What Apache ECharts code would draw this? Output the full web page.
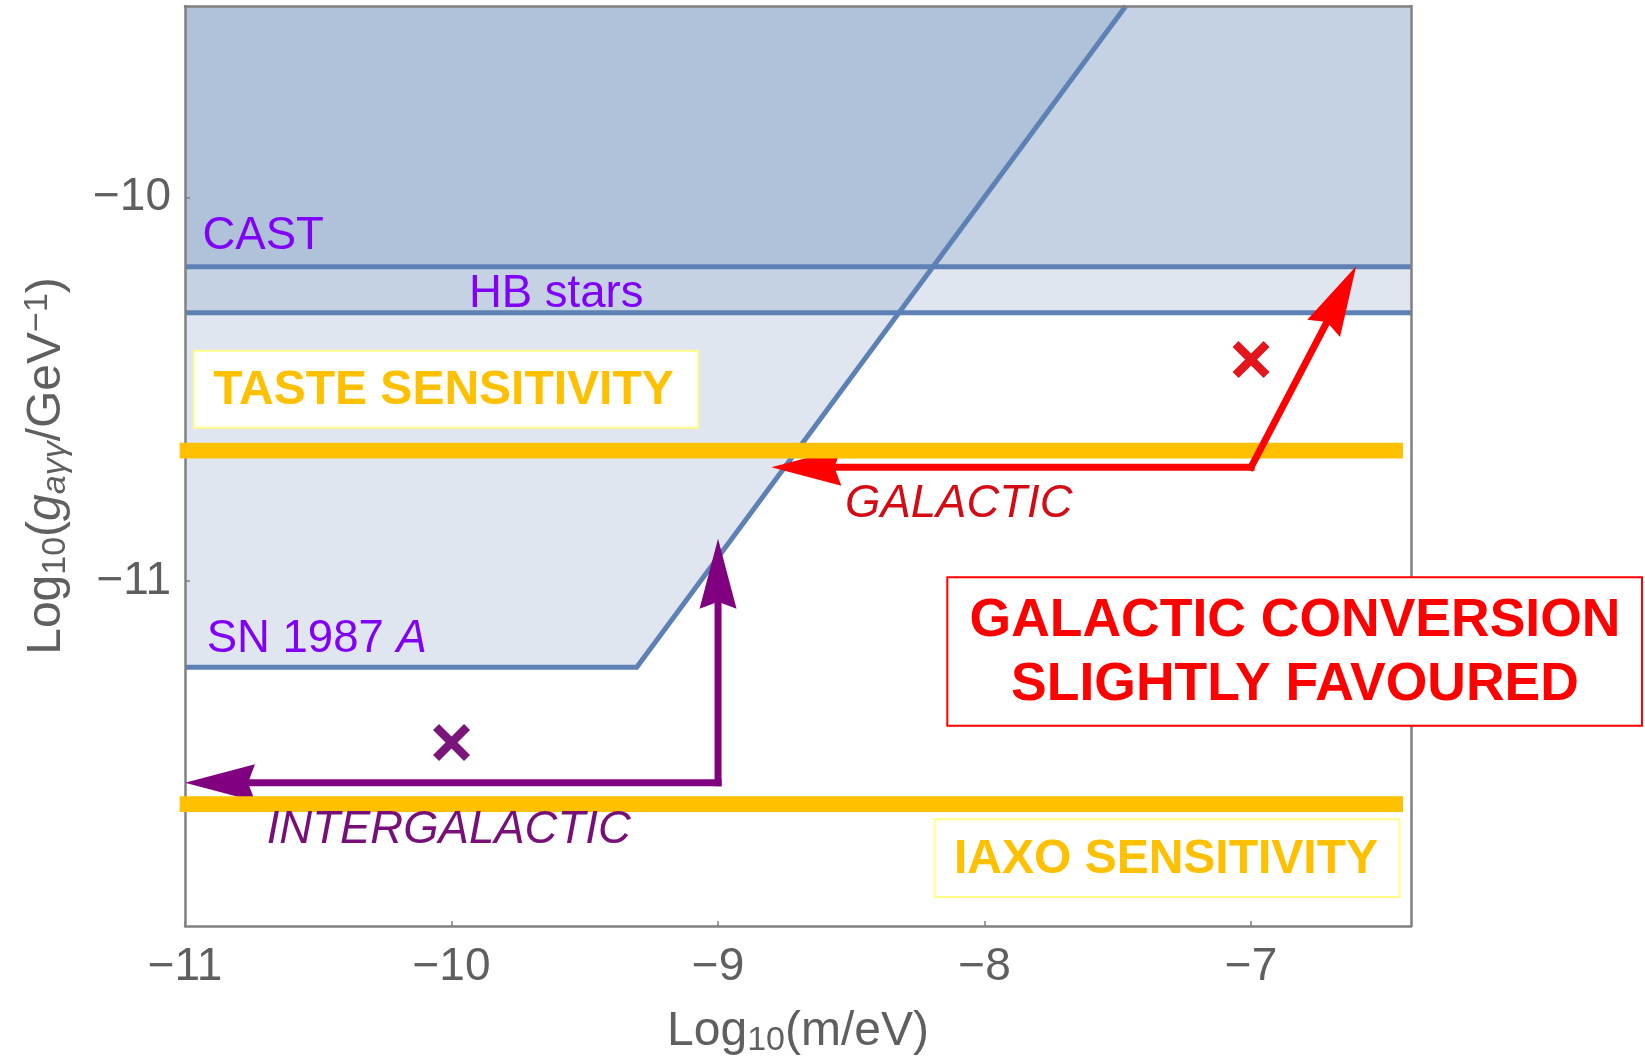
<!DOCTYPE html>
<html>
<head>
<meta charset="utf-8">
<script src="https://cdn.jsdelivr.net/npm/echarts@6/dist/echarts.min.js"></script>
<style>
html,body{margin:0;padding:0;background:#ffffff;}
#chart{width:1645px;height:1058px;}
</style>
</head>
<body>
<div id="chart"></div>
<script>
// ---------------- data (log10 values) ----------------
const xTickValues = [-11, -10, -9, -8, -7];
const yTickValues = [-11, -10];
const xRange = [-11, -6.4];
const yRange = [-11.9, -9.5];

// exclusion limits: log10(m/eV), log10(g/GeV^-1)
const castLimit = [[-11, -10.18], [-6.4, -10.18]];
const hbLimit = [[-11, -10.30], [-6.4, -10.30]];
const snLimit = [[-11, -11.225], [-9.305, -11.225], [-7.47, -9.5]];

// sensitivity levels
const tasteLine = [[-11.02, -10.66], [-6.43, -10.66]];
const iaxoLine = [[-11.02, -11.582], [-6.43, -11.582]];

// arrows: [from, to]
const galacticArrowLeft = [[-7.0, -10.703], [-8.8, -10.703]];
const galacticArrowUp = [[-7.0, -10.703], [-6.606, -10.179]];
const interArrowLeft = [[-9.0, -11.526], [-11.0, -11.526]];
const interArrowUp = [[-9.0, -11.526], [-9.0, -10.89]];

// best-fit markers
const galacticPoint = [[-7.0, -10.422]];
const interPoint = [[-10.0, -11.421]];

// ---------------- styling ----------------
const FONT = '"Liberation Sans", Arial, Helvetica, sans-serif';
const BLUE = '#5e81b5';
const YELLOW = '#ffc000';
const RED = '#ff0000';
const PURPLE = '#800080';
const LABEL_VIOLET = '#8000f8';
const AXIS_GRAY = '#5f5f5f';

const chart = echarts.init(document.getElementById('chart'), null, {renderer: 'canvas'});

function areaSeries(data) {
  return {
    type: 'line', data: data, showSymbol: false, symbol: 'none', silent: true, z: 2,
    lineStyle: {width: 0, opacity: 0},
    areaStyle: {color: BLUE, opacity: 0.2, origin: 'end'}
  };
}
function boundSeries(data) {
  return {
    type: 'line', data: data, showSymbol: false, symbol: 'none', silent: true, z: 3,
    lineStyle: {color: BLUE, width: 5, cap: 'butt', join: 'miter'}
  };
}
function levelSeries(data, z) {
  return {
    type: 'line', data: data, showSymbol: false, symbol: 'none', silent: true, z: z, clip: false,
    lineStyle: {color: YELLOW, width: 15.6, cap: 'butt'}
  };
}
function arrowSeries(arrow, color, z) {
  return {
    type: 'custom', coordinateSystem: 'cartesian2d', silent: true, z: z, clip: false,
    data: [[arrow[1][0], arrow[1][1], arrow[0][0], arrow[0][1]]],
    encode: {x: [0, 2], y: [1, 3]},
    renderItem: function (params, api) {
      const tip = api.coord([api.value(0), api.value(1)]);
      const tail = api.coord([api.value(2), api.value(3)]);
      const dx = tip[0] - tail[0], dy = tip[1] - tail[1];
      const len = Math.hypot(dx, dy);
      const ux = dx / len, uy = dy / len;
      const nx = -uy, ny = ux;
      const L = 70, W = 18.5, N = 63;
      const back = [tip[0] - ux * L, tip[1] - uy * L];
      const nb = [tip[0] - ux * N, tip[1] - uy * N];
      return {
        type: 'group',
        children: [
          {type: 'line', shape: {x1: tail[0] - ux * 3.5, y1: tail[1] - uy * 3.5, x2: nb[0] + ux * 2, y2: nb[1] + uy * 2},
           style: {stroke: color, lineWidth: 7, lineCap: 'butt'}},
          {type: 'polygon', shape: {points: [tip, [back[0] + nx * W, back[1] + ny * W], nb, [back[0] - nx * W, back[1] - ny * W]]},
           style: {fill: color}}
        ]
      };
    }
  };
}
function crossSeries(data, color) {
  return {
    type: 'scatter', data: data, silent: true, z: 6,
    symbol: 'path://M0,0L10,10M10,0L0,10', symbolSize: 31,
    itemStyle: {color: 'transparent', borderColor: color, borderWidth: 8.5, opacity: 1}
  };
}

const minusFmt = function (v) { return (v < 0 ? '\u2212' : '') + Math.abs(v); };

const nameRich = {
  m: {fontFamily: FONT, fontSize: 48, lineHeight: 52, color: AXIS_GRAY},
  mi: {fontFamily: FONT, fontSize: 48, lineHeight: 52, fontStyle: 'italic', color: AXIS_GRAY},
  s: {fontFamily: FONT, fontSize: 34, lineHeight: 18, verticalAlign: 'bottom', color: AXIS_GRAY},
  si: {fontFamily: FONT, fontSize: 34, lineHeight: 18, verticalAlign: 'bottom', fontStyle: 'italic', color: AXIS_GRAY},
  p: {fontFamily: FONT, fontSize: 34, lineHeight: 18, verticalAlign: 'top', color: AXIS_GRAY}
};

const frameLine = {show: true, lineStyle: {color: '#808080', width: 2.5}};

const option = {
  animation: false,
  backgroundColor: '#ffffff',
  grid: {left: 185, right: 234, top: 6, bottom: 132, containLabel: false, outerBoundsMode: 'none'},
  xAxis: [
    {
      type: 'value', min: xRange[0], max: xRange[1], z: 5,
      axisLine: frameLine,
      axisTick: {show: true, inside: true, length: 5, lineStyle: {color: '#808080', width: 1.5}, customValues: xTickValues},
      axisLabel: {customValues: xTickValues, formatter: minusFmt, fontFamily: FONT, fontSize: 46, color: AXIS_GRAY, margin: 18},
      splitLine: {show: false},
      name: '{m|Log}{s|10}{m|(m/eV)}', nameLocation: 'middle', nameGap: 80,
      nameTextStyle: {rich: nameRich}
    },
    {
      type: 'value', min: xRange[0], max: xRange[1], position: 'top', z: 5,
      axisLine: frameLine, axisTick: {show: false}, axisLabel: {show: false}, splitLine: {show: false}
    }
  ],
  yAxis: [
    {
      type: 'value', min: yRange[0], max: yRange[1], z: 5,
      axisLine: frameLine,
      axisTick: {show: true, inside: true, length: 5, lineStyle: {color: '#808080', width: 1.5}, customValues: yTickValues},
      axisLabel: {customValues: yTickValues, formatter: minusFmt, fontFamily: FONT, fontSize: 46, color: AXIS_GRAY, margin: 14},
      splitLine: {show: false},
      name: '{m|Log}{s|10}{m|(}{mi|g}{si|a\u03b3\u03b3}{m|/GeV}{p|\u22121}{m|)}',
      nameLocation: 'middle', nameRotate: 90, nameGap: 112,
      nameTextStyle: {rich: nameRich}
    },
    {
      type: 'value', min: yRange[0], max: yRange[1], position: 'right', z: 5,
      axisLine: frameLine, axisTick: {show: false}, axisLabel: {show: false}, splitLine: {show: false}
    }
  ],
  series: [
    areaSeries(castLimit),
    areaSeries(hbLimit),
    areaSeries(snLimit),
    boundSeries(castLimit),
    boundSeries(hbLimit),
    boundSeries(snLimit),
    arrowSeries(galacticArrowLeft, RED, 6),
    arrowSeries(interArrowLeft, PURPLE, 6),
    arrowSeries(interArrowUp, PURPLE, 6),
    levelSeries(tasteLine, 7),
    levelSeries(iaxoLine, 7),
    arrowSeries(galacticArrowUp, RED, 8),
    crossSeries(galacticPoint, '#e3161e'),
    crossSeries(interPoint, '#7a167a')
  ]
};
chart.setOption(option);

// ---------------- annotations (pixel layout) ----------------
const label = (txt, x, y, fill, size, style) => ({
  type: 'text', x: x, y: y, z: 20, silent: true,
  style: {text: txt, fill: fill, font: (style || '') + ' ' + size + 'px ' + FONT, align: 'left', verticalAlign: 'middle'}
});
const boxText = (txt, cx, cy, fill, size) => ({
  type: 'text', x: cx, y: cy, z: 21, silent: true,
  style: {text: txt, fill: fill, font: 'bold ' + size + 'px ' + FONT, align: 'center', verticalAlign: 'middle'}
});
const box = (x1, y1, x2, y2, stroke) => ({
  type: 'rect', z: 20, silent: true,
  shape: {x: x1, y: y1, width: x2 - x1, height: y2 - y1},
  style: {fill: '#ffffff', stroke: stroke, lineWidth: 2}
});

chart.setOption({
  graphic: [
    label('CAST', 202.5, 236.5, LABEL_VIOLET, 45.5),
    label('HB stars', 469, 294, LABEL_VIOLET, 45.5),
    {
      type: 'text', x: 206.7, y: 639.5, z: 20, silent: true,
      style: {
        text: '{r|SN 1987 }{i|A}', align: 'left', verticalAlign: 'middle',
        rich: {
          r: {fontFamily: FONT, fontSize: 45.5, fill: LABEL_VIOLET},
          i: {fontFamily: FONT, fontSize: 45.5, fontStyle: 'italic', fill: LABEL_VIOLET}
        }
      }
    },
    label('GALACTIC', 845, 504.5, '#d40a14', 45.5, 'italic'),
    label('INTERGALACTIC', 266.7, 830, '#780f78', 45.5, 'italic'),
    box(194, 350.7, 698, 427.7, '#ffff88'),
    boxText('TASTE SENSITIVITY', 443.5, 390.5, YELLOW, 48),
    box(934.7, 819.3, 1399.5, 897, '#ffff88'),
    boxText('IAXO SENSITIVITY', 1166, 859.5, YELLOW, 48),
    box(947.3, 577.3, 1642, 725.7, RED),
    boxText('GALACTIC CONVERSION', 1295, 621.5, RED, 53.5),
    boxText('SLIGHTLY FAVOURED', 1295, 685, RED, 53.5)
  ]
});
</script>
</body>
</html>
